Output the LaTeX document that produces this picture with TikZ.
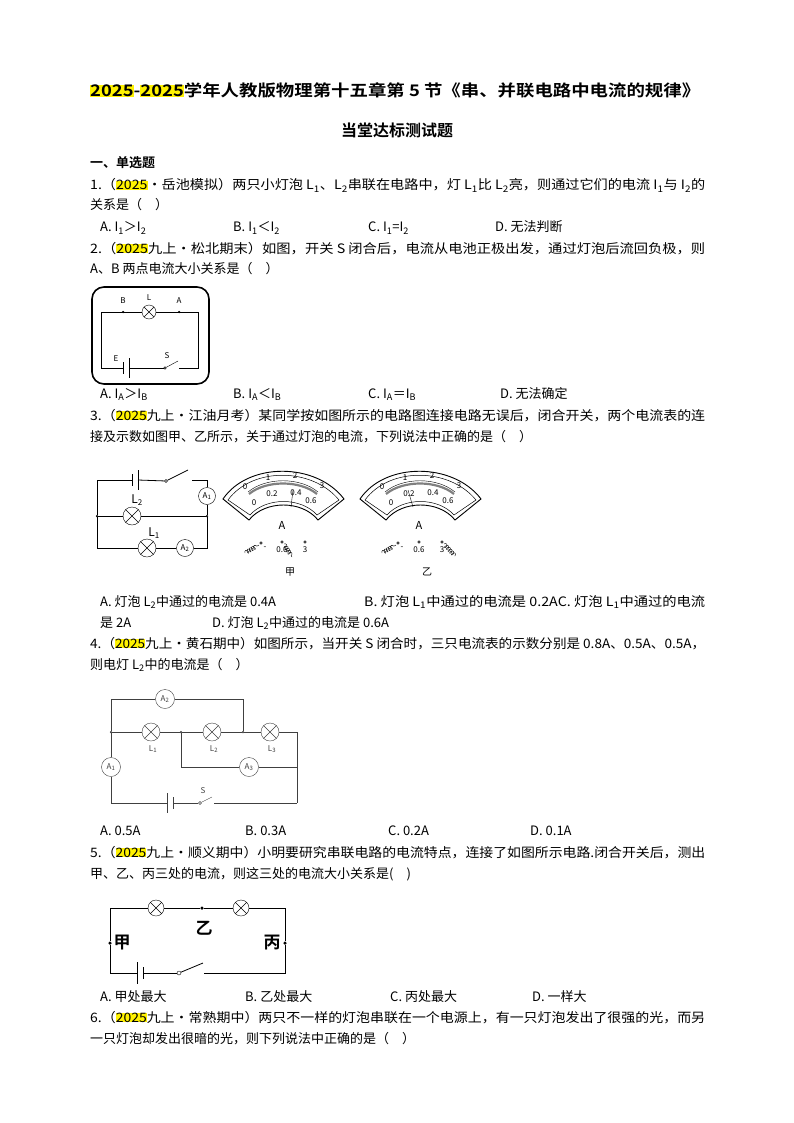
\documentclass[tikz,border=0pt]{standalone}
\usepackage{fontspec}
\usepackage{graphicx}
\setmainfont{Noto Sans CJK SC}[BoldFont={Noto Sans CJK SC Bold}]
\usetikzlibrary{decorations.pathmorphing}
\newcommand\hlyr[1]{{\setlength\fboxsep{0pt}\colorbox{yellow}{#1}}}
\newcommand\fullline[1]{\resizebox{615pt}{\height}{#1}}
\newcommand\lampx[1]{\draw (#1.45)--(#1.225) (#1.135)--(#1.315);}
\newcommand\sub[1]{\textsubscript{#1}}
\begin{document}
\begin{tikzpicture}[x=1pt,y=-1pt,
txt/.style={anchor=base west, inner sep=0pt, font=\fontsize{13}{16}\selectfont},
ttl/.style={anchor=base west, inner sep=0pt, font=\fontsize{16}{18}\bfseries},
lampnode/.style={circle, draw, minimum size=#1, inner sep=0pt},
meternode/.style={circle, draw, minimum size=#1, inner sep=0pt, font=\fontsize{8}{9}\selectfont},
lbl/.style={inner sep=0pt, font=\fontsize{8}{9}\selectfont},
big/.style={inner sep=0pt, font=\fontsize{17}{18}\bfseries},
jdot/.style={circle, fill, inner sep=0pt, minimum size=3.5pt},
tdot/.style={circle, draw, inner sep=0pt, minimum size=3pt},
coilline/.style={decorate, decoration={coil, aspect=0.6, segment length=2.5pt, amplitude=2pt}},
]
\useasboundingbox[fill=white] (0,0) rectangle (794,1123);
%Texts
\node[ttl] (title1) at (90,97) {\resizebox{610pt}{\height}{\hlyr{2025}-\hlyr{2025}学年人教版物理第十五章第 5 节《串、并联电路中电流的规律》}};
\node[ttl, anchor=base] (title2) at (397,137) {当堂达标测试题};
\node[txt, font=\fontsize{13}{16}\bfseries] (sec1) at (90,168) {一、单选题};
\node[txt] (q1a) at (90,190) {\fullline{1.（\hlyr{2025}·岳池模拟）两只小灯泡 L\sub{1}、L\sub{2}串联在电路中，灯 L\sub{1}比 L\sub{2}亮，则通过它们的电流 I\sub{1}与 I\sub{2}的}};
\node[txt] (q1b) at (90,210) {关系是（　）};
\node[txt] (q1A) at (100,232) {A. I\sub{1}＞I\sub{2}};
\node[txt] (q1B) at (233,232) {B. I\sub{1}＜I\sub{2}};
\node[txt] (q1C) at (368,232) {C. I\sub{1}=I\sub{2}};
\node[txt] (q1D) at (495,232) {D. 无法判断};
\node[txt] (q2a) at (90,253) {\fullline{2.（\hlyr{2025}九上·松北期末）如图，开关 S 闭合后，电流从电池正极出发，通过灯泡后流回负极，则}};
\node[txt] (q2b) at (90,273) {A、B 两点电流大小关系是（　）};
\node[txt] (q2A) at (100,398) {A. I\sub{A}＞I\sub{B}};
\node[txt] (q2B) at (233,398) {B. I\sub{A}＜I\sub{B}};
\node[txt] (q2C) at (368,398) {C. I\sub{A}＝I\sub{B}};
\node[txt] (q2D) at (500,398) {D. 无法确定};
\node[txt] (q3a) at (90,420) {\fullline{3.（\hlyr{2025}九上·江油月考）某同学按如图所示的电路图连接电路无误后，闭合开关，两个电流表的连}};
\node[txt] (q3b) at (90,441) {接及示数如图甲、乙所示，关于通过灯泡的电流，下列说法中正确的是（　）};
\node[txt] (q3A) at (100,606) {A. 灯泡 L\sub{2}中通过的电流是 0.4A};
\node[txt] (q3B) at (364,606) {\resizebox{341pt}{\height}{B. 灯泡 L\sub{1}中通过的电流是 0.2AC. 灯泡 L\sub{1}中通过的电流}};
\node[txt] (q3C) at (100,627) {是 2A};
\node[txt] (q3D) at (212,627) {D. 灯泡 L\sub{2}中通过的电流是 0.6A};
\node[txt] (q4a) at (90,648) {\fullline{4.（\hlyr{2025}九上·黄石期中）如图所示，当开关 S 闭合时，三只电流表的示数分别是 0.8A、0.5A、0.5A，}};
\node[txt] (q4b) at (90,669) {则电灯 L\sub{2}中的电流是（　）};
\node[txt] (q4A) at (100,835) {A. 0.5A};
\node[txt] (q4B) at (245,835) {B. 0.3A};
\node[txt] (q4C) at (388,835) {C. 0.2A};
\node[txt] (q4D) at (530,835) {D. 0.1A};
\node[txt] (q5a) at (90,857) {\fullline{5.（\hlyr{2025}九上·顺义期中）小明要研究串联电路的电流特点，连接了如图所示电路.闭合开关后，测出}};
\node[txt] (q5b) at (90,878) {甲、乙、丙三处的电流，则这三处的电流大小关系是(　)};
\node[txt] (q5A) at (100,1001) {A. 甲处最大};
\node[txt] (q5B) at (245,1001) {B. 乙处最大};
\node[txt] (q5C) at (390,1001) {C. 丙处最大};
\node[txt] (q5D) at (532,1001) {D. 一样大};
\node[txt] (q6a) at (90,1022) {\fullline{6.（\hlyr{2025}九上·常熟期中）两只不一样的灯泡串联在一个电源上，有一只灯泡发出了很强的光，而另}};
\node[txt] (q6b) at (90,1043) {一只灯泡却发出很暗的光，则下列说法中正确的是（　）};

%Circuit 2
\draw[line width=1.6pt, rounded corners=12pt] (92,287) rectangle (209,384);
\node[lampnode=14pt] (c2L) at (149,312) {};
\lampx{c2L}
\node[jdot, minimum size=2.5pt] (c2B) at (123,312) {};
\node[jdot, minimum size=2.5pt] (c2A) at (179,312) {};
\node[lbl] at (123,301) {B};
\node[lbl] at (179,301) {A};
\node[lbl] at (149,298) {L};
\node[lbl] at (116,359) {E};
\node[lbl] at (167,356) {S};
\coordinate (c2tl) at (101,312);
\coordinate (c2tr) at (198,312);
\coordinate (c2bl) at (101,368);
\coordinate (c2br) at (198,368);
\node[tdot, minimum size=2.5pt] (c2S) at (165,368) {};
\draw (c2L) -- (c2tl) -- (c2bl) -- (123,368);
\draw (123,362) -- (123,374);
\draw (129,358) -- (129,378);
\draw (129,368) -- (c2S);
\draw (c2S) -- (178,361);
\draw (179,368) -- (c2br) -- (c2tr) -- (c2L);

%Circuit 3
\node[lampnode=18pt] (c3L2) at (132,516) {};
\lampx{c3L2}
\node[lampnode=18pt] (c3L1) at (147,548) {};
\lampx{c3L1}
\node[meternode=17pt] (c3A1) at (207,496) {A\sub{1}};
\node[meternode=17pt] (c3A2) at (185,548) {A\sub{2}};
\node[inner sep=0pt, font=\fontsize{12}{12}\selectfont] at (137,500) {L\sub{2}};
\node[inner sep=0pt, font=\fontsize{12}{12}\selectfont] at (154,533) {L\sub{1}};
\node[jdot, minimum size=2.5pt] (c3jl) at (97,516) {};
\node[jdot, minimum size=2.5pt] (c3jr) at (207,516) {};
\node[tdot] (c3S) at (166,481) {};
\draw[line width=0.8pt] (c3jl) |- (132,480);
\draw[line width=0.8pt] (132,474) -- (132,486);
\draw[line width=0.8pt] (138,470) -- (138,490);
\draw[line width=0.8pt] (138,480) -- (c3S);
\draw[line width=0.8pt] (c3S) -- (188,470);
\draw[line width=0.8pt] (192,480) -| (c3A1);
\draw[line width=0.8pt] (c3A1) -- (c3jr);
\draw[line width=0.8pt] (c3jl) -- (c3L2) -- (c3jr);
\draw[line width=0.8pt] (c3jl) |- (c3L1);
\draw[line width=0.8pt] (c3L1) -- (c3A2);
\draw[line width=0.8pt] (c3A2) -| (c3jr);

%Meters
\foreach \mx/\ptop/\pbot/\mname in {0/293/291/甲, 137/271/276/乙} {
\begin{scope}[xshift=\mx pt]
\draw[line width=0.9pt] (223,499) .. controls (248,462) and (316,462) .. (344,499) -- (318,520) .. controls (302,500) and (265,500) .. (249,520) -- cycle;
\draw[line width=0.5pt] (228,500) .. controls (252,467) and (312,467) .. (339,500) -- (317,515) .. controls (301,497) and (266,497) .. (250,515) -- cycle;
\draw[line width=2.2pt, gray] (249,494) .. controls (266,480) and (300,480) .. (317,494);
\draw[line width=0.4pt] (248,492) .. controls (266,477) and (300,477) .. (318,492);
\node[lbl] at (245,487) {0};
\node[lbl] at (268,478) {1};
\node[lbl] at (295,476) {2};
\node[lbl] at (322,486) {3};
\node[lbl] at (254,503) {0};
\node[lbl] at (272,494) {0.2};
\node[lbl] at (296,493) {0.4};
\node[lbl] at (311,501) {0.6};
\node[inner sep=0pt, font=\fontsize{11}{12}\selectfont] at (282,525) {A};
\node[tdot, minimum size=2.5pt] at (261,543) {};
\node[tdot, minimum size=2.5pt] at (282,542) {};
\node[tdot, minimum size=2.5pt] at (305,542) {};
\draw[coilline] (245,553) -- (259,545);
\node[lbl] at (265,548) {-};
\node[lbl] at (282,550) {0.6};
\node[lbl] at (305,550) {3};
\node[inner sep=0pt, font=\fontsize{10}{11}\selectfont] at (290,572) {\mname};
\draw (\pbot,507) -- (\ptop,490);
\end{scope}
}
\draw[coilline] (284,544) -- (292,557);
\draw[coilline] (444,544) -- (455,556);

%Circuit 4
\begin{scope}[draw=black!75, text=black!75]
\node[lampnode=18pt] (c4L1) at (151,732) {};
\lampx{c4L1}
\node[lampnode=18pt] (c4L2) at (212,732) {};
\lampx{c4L2}
\node[lampnode=18pt] (c4L3) at (270,732) {};
\lampx{c4L3}
\node[meternode=19pt] (c4A1) at (111,767) {A\sub{1}};
\node[meternode=19pt] (c4A2) at (165,699) {A\sub{2}};
\node[meternode=19pt] (c4A3) at (249,767) {A\sub{3}};
\node[lbl] at (153,749) {L\sub{1}};
\node[lbl] at (214,749) {L\sub{2}};
\node[lbl] at (272,749) {L\sub{3}};
\node[lbl] at (203,791) {S};
\node[jdot, minimum size=2.5pt, fill=black!75] (c4j1) at (111,732) {};
\node[jdot, minimum size=2.5pt, fill=black!75] (c4j2) at (181,732) {};
\node[jdot, minimum size=2.5pt, fill=black!75] (c4j3) at (243,732) {};
\node[tdot, minimum size=3pt] (c4S) at (200,803) {};
\coordinate (c4tr) at (297,732);
\coordinate (c4br) at (297,803);
\draw (c4j1) |- (c4A2);
\draw (c4A2) -| (c4j3);
\draw (c4j1) -- (c4L1) -- (c4j2) -- (c4L2) -- (c4j3) -- (c4L3) -- (c4tr) -- (c4br);
\draw (c4j2) |- (c4A3);
\draw (c4A3) -- (297,767);
\draw (c4j1) -- (c4A1);
\draw (c4A1) |- (167,803);
\draw (167,793) -- (167,813);
\draw (173,797) -- (173,809);
\draw (173,803) -- (c4S);
\draw (c4S) -- (212,797);
\draw (214,803) -- (c4br);
\end{scope}

%Circuit 5
\node[lampnode=16pt] (c5L1) at (156,908) {};
\lampx{c5L1}
\node[lampnode=16pt] (c5L2) at (241,908) {};
\lampx{c5L2}
\node[jdot] (c5yi) at (202,908) {};
\node[jdot] (c5jia) at (110,943) {};
\node[jdot] (c5bing) at (285,943) {};
\node[big] at (204,928) {乙};
\node[big] at (122,943) {甲};
\node[big] at (272,943) {丙};
\node[tdot, minimum size=4pt] (c5S) at (179,973) {};
\draw[line width=0.8pt] (c5L1) -| (c5jia);
\draw[line width=0.8pt] (c5jia) |- (137,973);
\draw[line width=0.8pt] (137,962) -- (137,984);
\draw[line width=0.8pt] (143,967) -- (143,979);
\draw[line width=0.8pt] (143,973) -- (c5S);
\draw[line width=0.8pt] (c5S) -- (203,963);
\draw[line width=0.8pt] (204,973) -| (c5bing);
\draw[line width=0.8pt] (c5bing) |- (c5L2);
\draw[line width=0.8pt] (c5L2) -- (c5yi) -- (c5L1);
\end{tikzpicture}
\end{document}
